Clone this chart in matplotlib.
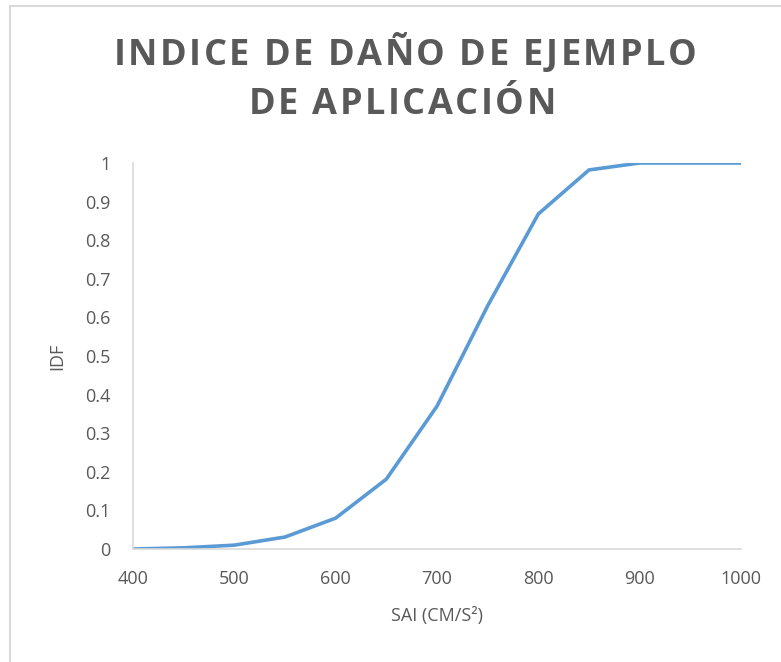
import matplotlib.pyplot as plt
from matplotlib.lines import Line2D

# SAI vs IDF values
sai = [400, 450, 500, 550, 600, 650, 700, 750, 800, 850, 900, 950, 1000]
idf = [0.0, 0.003, 0.01, 0.031, 0.08, 0.181, 0.37, 0.63, 0.868, 0.982, 1.0, 1.0, 1.0]
y_ticks = [0, 0.1, 0.2, 0.3, 0.4, 0.5, 0.6, 0.7, 0.8, 0.9, 1]
y_labels = ['0', '0.1', '0.2', '0.3', '0.4', '0.5', '0.6', '0.7', '0.8', '0.9', '1']
x_ticks = [400, 500, 600, 700, 800, 900, 1000]
title_lines = ['INDICE DE DAÑO DE EJEMPLO', 'DE APLICACIÓN']

plt.rcParams['font.family'] = ['Open Sans', 'DejaVu Sans']
grey = '#595959'
W, H = 781, 662

fig = plt.figure(figsize=(7.81, 6.62), dpi=100)
# chart-area border, only top and left are visible in the crop
fig.add_artist(Line2D([9.5 / W, 9.5 / W], [0, 1 - 5.5 / H], color='#d9d9d9', lw=1.5))
fig.add_artist(Line2D([9.5 / W, 1], [1 - 5.5 / H, 1 - 5.5 / H], color='#d9d9d9', lw=1.5))

ax = fig.add_axes([133 / W, 1 - 549 / H, 608 / W, 386 / H])
ax.plot(sai, idf, color='#5B9BD5', linewidth=2.6, solid_capstyle='butt')
ax.set_xlim(400, 1000)
ax.set_ylim(0, 1)
ax.set_xticks(x_ticks)
ax.set_yticks(y_ticks)
ax.set_yticklabels(y_labels)

for s in ['top', 'right']:
    ax.spines[s].set_visible(False)
for s in ['bottom', 'left']:
    ax.spines[s].set_color('#d9d9d9')
    ax.spines[s].set_linewidth(1.2)
ax.tick_params(length=0, labelsize=13, colors=grey)
ax.tick_params(axis='x', pad=15)
ax.tick_params(axis='y', pad=16)

ax.set_xlabel('SAI (CM/S²)', fontsize=13, color=grey, labelpad=14)
ax.set_ylabel('IDF', fontsize=13, color=grey, labelpad=14)

# title with extra letter spacing, laid out char by char
renderer = fig.canvas.get_renderer()
spacing = 2.5  # px between letters
for line, cx, cy in [(title_lines[0], 405, 56), (title_lines[1], 402, 105)]:
    widths = []
    for ch in line:
        t = fig.text(0, 0, ch, fontsize=26, fontweight='bold')
        widths.append(t.get_window_extent(renderer).width)
        t.remove()
    total = sum(widths) + spacing * (len(line) - 1)
    x = cx - total / 2
    for ch, w in zip(line, widths):
        fig.text(x / W, 1 - cy / H, ch, fontsize=26, fontweight='bold', color=grey,
                 ha='left', va='center')
        x += w + spacing

fig.savefig('out.png', dpi=100)
